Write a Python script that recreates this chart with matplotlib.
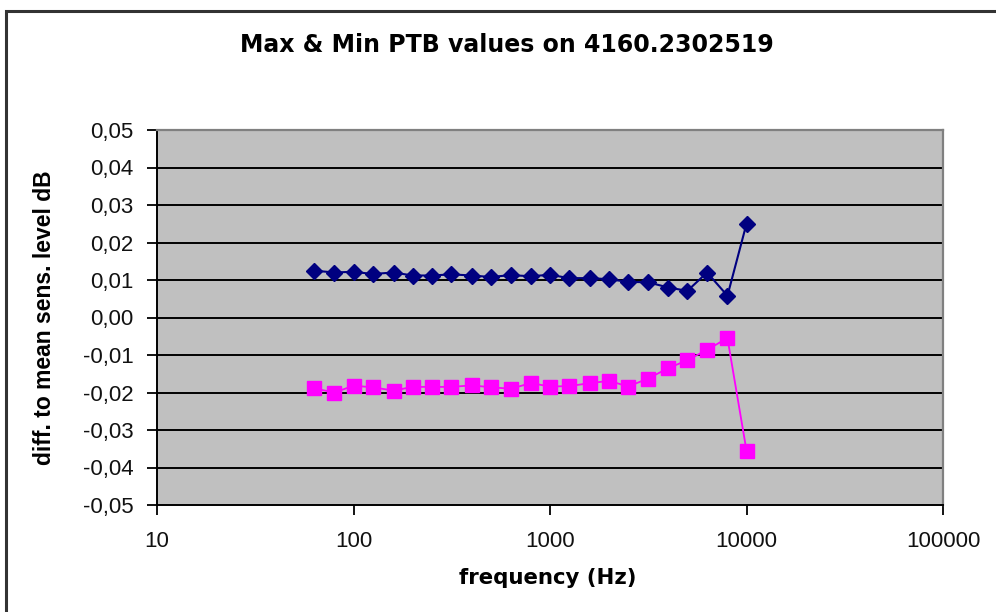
import numpy as np
import matplotlib.pyplot as plt
from matplotlib.ticker import FixedLocator, FuncFormatter, NullLocator
from matplotlib.patches import Rectangle

plt.rcParams["font.family"] = ["Liberation Sans", "DejaVu Sans"]

# third-octave centre frequencies (Hz)
freq = [63, 80, 100, 125, 160, 200, 250, 315, 400, 500, 630, 800,
        1000, 1250, 1600, 2000, 2500, 3150, 4000, 5000, 6300, 8000, 10000]

# max / min deviation from mean sensitivity level (dB)
max_dev = [0.0125, 0.0120, 0.0122, 0.0116, 0.0120, 0.0112, 0.0112, 0.0115,
           0.0112, 0.0108, 0.0113, 0.0110, 0.0114, 0.0105, 0.0105, 0.0102,
           0.0095, 0.0094, 0.0080, 0.0071, 0.0120, 0.0058, 0.0250]
min_dev = [-0.0189, -0.0200, -0.0182, -0.0186, -0.0195, -0.0185, -0.0185, -0.0185,
           -0.0181, -0.0186, -0.0190, -0.0175, -0.0184, -0.0183, -0.0175, -0.0169,
           -0.0184, -0.0163, -0.0135, -0.0114, -0.0086, -0.0055, -0.0355]

y_ticks = np.round(np.arange(-0.05, 0.051, 0.01), 2)
x_ticks = [10, 100, 1000, 10000, 100000]

W, H = 996, 612
fig = plt.figure(figsize=(W / 100, H / 100), dpi=100)
ax = fig.add_axes([157 / W, 1 - 505 / H, (943 - 157) / W, (505 - 130) / H])

# chart frame (runs off the right and bottom edges)
fig.patches.append(Rectangle((6 / W, -0.05), 1.1, 1 - 11 / H + 0.05,
                             transform=fig.transFigure, fill=False,
                             edgecolor="#333333", linewidth=2.2))

ax.set_facecolor("#c0c0c0")
ax.set_xscale("log")
ax.set_xlim(10, 100000)
ax.set_ylim(-0.05, 0.05)

for y in y_ticks[1:-1]:
    ax.axhline(y, color="black", linewidth=1.4, zorder=1)

ax.plot(freq, max_dev, color="#000080", marker="D", markersize=8.5,
        linewidth=1.5, zorder=3)
ax.plot(freq, min_dev, color="#ff00ff", marker="s", markersize=10,
        linewidth=1.3, zorder=3)

ax.xaxis.set_major_locator(FixedLocator(x_ticks))
ax.xaxis.set_minor_locator(NullLocator())
ax.xaxis.set_major_formatter(FuncFormatter(lambda v, p: f"{v:.0f}"))
ax.yaxis.set_major_locator(FixedLocator(y_ticks))
ax.yaxis.set_major_formatter(FuncFormatter(lambda v, p: f"{v:.2f}".replace(".", ",")))

ax.tick_params(axis="both", direction="out", length=7, width=1.3,
               labelsize=16, colors="black", labelcolor="#111111")
ax.tick_params(axis="x", pad=12)
ax.tick_params(axis="y", pad=10)

for side in ["top", "right"]:
    ax.spines[side].set_color("#808080")
    ax.spines[side].set_linewidth(1.6)
for side in ["left", "bottom"]:
    ax.spines[side].set_color("black")
    ax.spines[side].set_linewidth(1.4)

ax.set_ylabel("diff. to mean sens. level dB", fontsize=16.5, fontweight="bold")
ax.yaxis.set_label_coords((56 - 157) / 786, 0.5)
fig.text(548 / W, 1 - 578 / H, "frequency (Hz)", ha="center", va="center",
         fontsize=15.3, fontweight="bold", family="DejaVu Sans")
fig.text(507 / W, 1 - 45 / H, "Max & Min PTB values on 4160.2302519",
         ha="center", va="center", fontsize=17, fontweight="bold",
         family="DejaVu Sans")

plt.savefig("out.png", dpi=100)
